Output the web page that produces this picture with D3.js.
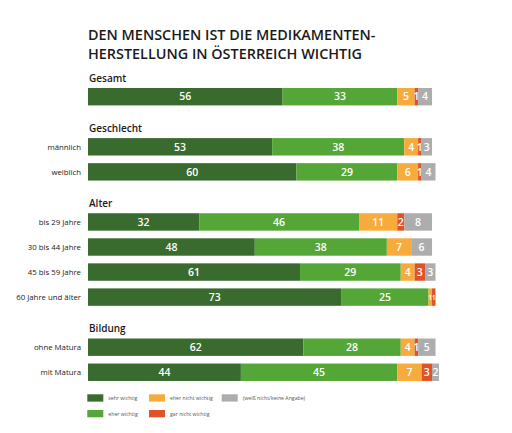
<!DOCTYPE html>
<html>
<head>
<meta charset="utf-8">
<script src="https://cdn.jsdelivr.net/npm/d3@7"></script>
<style>
  body { margin: 0; background: #fff; }
  svg { font-family: "Open Sans", sans-serif; }
</style>
</head>
<body>
<div id="chart"></div>
<script>
// categories (stack order) and colors
var categories = ["sehr wichtig", "eher wichtig", "eher nicht wichtig", "gar nicht wichtig", "(weiß nicht/keine Angabe)"];
var colors = ["#386b2d", "#54a637", "#f7ab3c", "#e0522a", "#adadad"];

// rows
var rowLabels = ["Gesamt", "männlich", "weiblich", "bis 29 Jahre", "30 bis 44 Jahre", "45 bis 59 Jahre", "60 Jahre und älter", "ohne Matura", "mit Matura"];
var rowGroups = ["Gesamt", "Geschlecht", "Geschlecht", "Alter", "Alter", "Alter", "Alter", "Bildung", "Bildung"];

// values per category
var sehrWichtig      = [56, 53, 60, 32, 48, 61, 73, 62, 44];
var eherWichtig      = [33, 38, 29, 46, 38, 29, 25, 28, 45];
var eherNichtWichtig = [5, 4, 6, 11, 7, 4, 1, 4, 7];
var garNichtWichtig  = [1, 1, 1, 2, 0, 3, 1, 1, 3];
var weissNicht       = [4, 3, 4, 8, 6, 3, 0, 5, 2];

var series = [sehrWichtig, eherWichtig, eherNichtWichtig, garNichtWichtig, weissNicht];

var svgWidth = 512;
var svgHeight = 433;

var svg = d3.select("#chart")
  .append("svg")
  .attr("width", svgWidth)
  .attr("height", svgHeight);

// build rows for stacking
var data = rowLabels.map(function (label, i) {
  var d = { label: label, group: rowGroups[i] };
  categories.forEach(function (c, j) { d[c] = series[j][i]; });
  return d;
});

// slot layout: a header slot before each group except "Gesamt"
var slots = [];
var groupHeaders = [];
data.forEach(function (d, i) {
  if (i > 0 && d.group !== data[i - 1].group) {
    slots.push("h:" + d.group);
  }
  if (i === 0 || d.group !== data[i - 1].group) {
    groupHeaders.push({ group: d.group, first: d.label });
  }
  slots.push(d.label);
});

var pitch = 25.05;
var yScale = d3.scaleBand()
  .domain(slots)
  .range([88, 88 + (slots.length - 0.305) * pitch])
  .paddingInner(0.305)
  .paddingOuter(0);

var xScale = d3.scaleLinear()
  .domain([0, 100])
  .range([88, 435.5]);

// title
var title = svg.append("text")
  .attr("x", 88)
  .attr("y", 39.5)
  .attr("fill", "#1a1a1a")
  .style("font-size", "14.4px")
  .style("font-weight", 600);
title.append("tspan").attr("x", 88).text("DEN MENSCHEN IST DIE MEDIKAMENTEN-");
title.append("tspan").attr("x", 88).attr("dy", 19.6).text("HERSTELLUNG IN ÖSTERREICH WICHTIG");

// group headers
svg.selectAll(".groupHeader")
  .data(groupHeaders)
  .enter()
  .append("text")
  .attr("class", "groupHeader")
  .attr("x", 89)
  .attr("y", function (d) { return yScale(d.first) - 6.5; })
  .attr("fill", "#1a1a1a")
  .style("font-size", "10px")
  .style("font-weight", 600)
  .text(function (d) { return d.group; });

// row labels (not for Gesamt)
svg.selectAll(".rowLabel")
  .data(data.filter(function (d) { return d.group !== "Gesamt"; }))
  .enter()
  .append("text")
  .attr("class", "rowLabel")
  .attr("x", 81)
  .attr("y", function (d) { return yScale(d.label) + yScale.bandwidth() / 2; })
  .attr("dy", "0.35em")
  .attr("text-anchor", "end")
  .attr("fill", "#1a1a1a")
  .style("font-size", "7.8px")
  .style("font-weight", 500)
  .text(function (d) { return d.label; });

var stack = d3.stack().keys(categories);
var stacked = stack(data);

var layers = svg.selectAll(".layer")
  .data(stacked)
  .enter()
  .append("g")
  .attr("class", "layer")
  .attr("fill", function (d, i) { return colors[i]; });

layers.selectAll("rect")
  .data(function (d) { return d; })
  .enter()
  .append("rect")
  .attr("x", function (d) { return xScale(d[0]); })
  .attr("y", function (d) { return yScale(d.data.label); })
  .attr("width", function (d) { return xScale(d[1]) - xScale(d[0]); })
  .attr("height", yScale.bandwidth());

layers.selectAll(".val")
  .data(function (d) { return d.filter(function (s) { return s[1] - s[0] > 0; }); })
  .enter()
  .append("text")
  .attr("class", "val")
  .attr("x", function (d) { return (xScale(d[0]) + xScale(d[1])) / 2; })
  .attr("y", function (d) { return yScale(d.data.label) + yScale.bandwidth() / 2; })
  .attr("dy", "0.36em")
  .attr("text-anchor", "middle")
  .attr("fill", "#fff")
  .style("font-size", function (d) {
    // squeeze the tiny end segments of the 60+ row
    return (d[1] - d[0] < 2 && d.data[categories[4]] === 0) ? "7px" : "10.5px";
  })
  .style("font-weight", 600)
  .text(function (d) { return d[1] - d[0]; });

// legend
var legendPos = [
  { x: 87.3, y: 394.3 },
  { x: 87.3, y: 410 },
  { x: 149, y: 394.3 },
  { x: 149, y: 410 },
  { x: 221.7, y: 394.3 }
];

var legend = svg.selectAll(".legend")
  .data(categories)
  .enter()
  .append("g")
  .attr("class", "legend")
  .attr("transform", function (d, i) { return `translate(${legendPos[i].x}, ${legendPos[i].y})`; });

legend.append("rect")
  .attr("width", 16)
  .attr("height", 7.3)
  .attr("fill", function (d, i) { return colors[i]; });

legend.append("text")
  .attr("x", 21)
  .attr("y", 3.7)
  .attr("dy", "0.35em")
  .attr("fill", "#555")
  .style("font-size", "5.2px")
  .text(function (d) { return d; });
</script>
</body>
</html>
